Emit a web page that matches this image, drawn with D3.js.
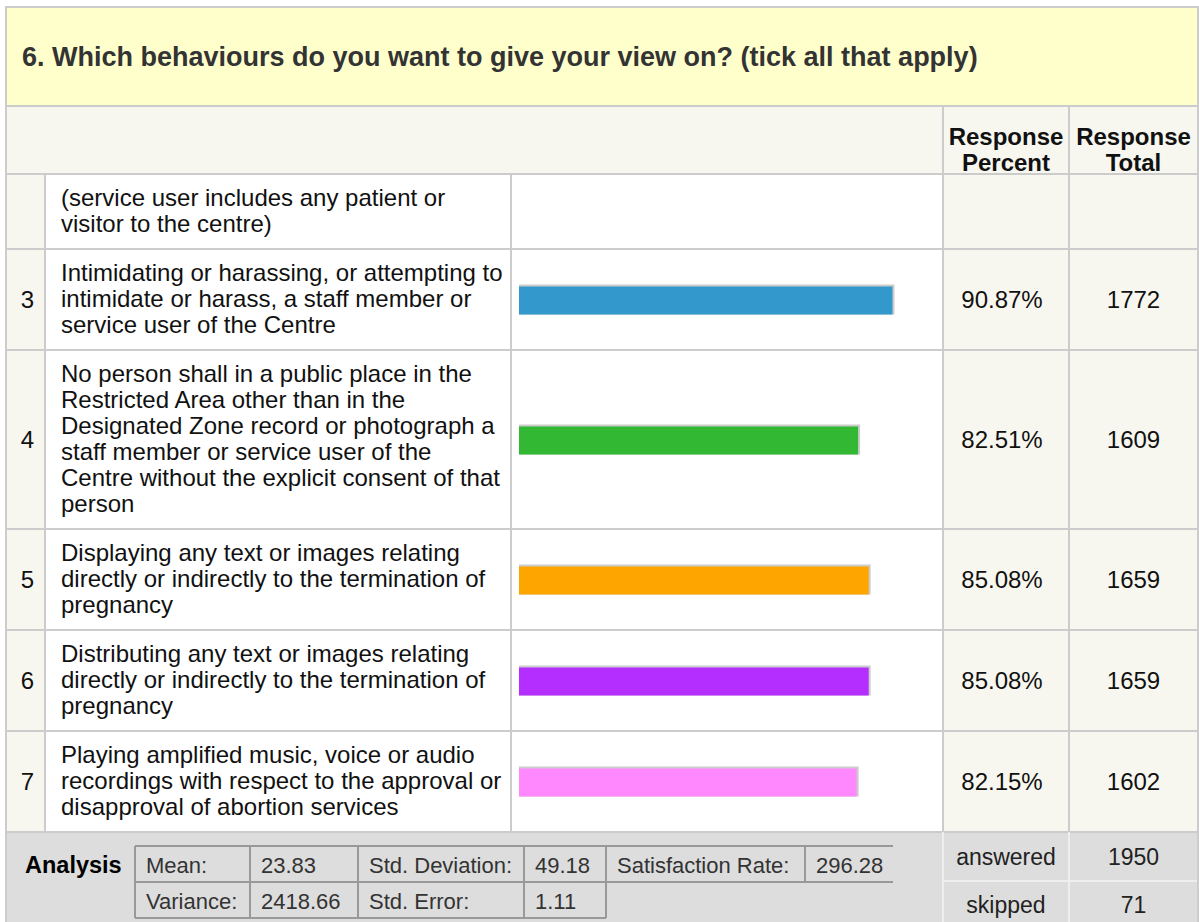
<!DOCTYPE html>
<html>
<head>
<meta charset="utf-8">
<script src="https://cdn.jsdelivr.net/npm/d3@7"></script>
<style>
  html, body { margin: 0; padding: 0; background: #ffffff; }
  svg { display: block; font-family: "Liberation Sans", Arial, sans-serif; }
</style>
</head>
<body>
<svg id="chart" width="1199" height="922"></svg>
<script>
// ---- data ----
const title = "6. Which behaviours do you want to give your view on? (tick all that apply)";
const headerPercent = ["Response", "Percent"];
const headerTotal = ["Response", "Total"];
const rowNumbers = ["", "3", "4", "5", "6", "7"];
const rowLabels = [
  ["(service user includes any patient or", "visitor to the centre)"],
  ["Intimidating or harassing, or attempting to", "intimidate or harass, a staff member or", "service user of the Centre"],
  ["No person shall in a public place in the", "Restricted Area other than in the", "Designated Zone record or photograph a", "staff member or service user of the", "Centre without the explicit consent of that", "person"],
  ["Displaying any text or images relating", "directly or indirectly to the termination of", "pregnancy"],
  ["Distributing any text or images relating", "directly or indirectly to the termination of", "pregnancy"],
  ["Playing amplified music, voice or audio", "recordings with respect to the approval or", "disapproval of abortion services"]
];
const percentValues = [null, 90.87, 82.51, 85.08, 85.08, 82.15];
const totalValues = [null, 1772, 1609, 1659, 1659, 1602];
const barColors = [null, "#3399cc", "#33b833", "#ffa500", "#b42eff", "#ff88ff"];
const analysisRow1 = [["Mean:", "23.83"], ["Std. Deviation:", "49.18"], ["Satisfaction Rate:", "296.28"]];
const analysisRow2 = [["Variance:", "2418.66"], ["Std. Error:", "1.11"]];
const answeredSkipped = [["answered", 1950], ["skipped", 71]];

// ---- layout ----
const svg = d3.select("#chart");
const L = 6, R = 1198, T = 7;
const titleH = 99, headerH = 68;
const colX = [L, 45, 511, 943, 1069, R];
const lineH = 26, rowPad = 23;
const fs = 24;
const lineColor = "#cccccc";
const cream = "#f7f7f0";

// row boundaries computed from line counts
const rowHeights = rowLabels.map(l => l.length * lineH + rowPad);
const rowTops = [];
let acc = T + titleH + headerH;
rowHeights.forEach(h => { rowTops.push(acc); acc += h; });
const tableBottom = acc;

// bar scale
const x = d3.scaleLinear().domain([0, 100]).range([colX[2] + 8, colX[2] + 8 + 411]);
const barH = 30;

// title
svg.append("rect").attr("x", L).attr("y", T).attr("width", R - L).attr("height", titleH)
  .attr("fill", "#ffffcc");
svg.append("text").attr("x", 22).attr("y", T + titleH / 2 + 9.5)
  .attr("font-size", 27).attr("font-weight", "bold").attr("fill", "#333333").text(title);

// header
const hy = T + titleH;
svg.append("rect").attr("x", L).attr("y", hy).attr("width", R - L).attr("height", headerH).attr("fill", cream);
[[headerPercent, 3], [headerTotal, 4]].forEach(([lines, ci]) => {
  const cx = (colX[ci] + colX[ci + 1]) / 2;
  lines.forEach((t, i) => {
    svg.append("text").attr("x", cx).attr("y", hy + 39 + i * lineH).attr("text-anchor", "middle")
      .attr("font-size", fs).attr("font-weight", "bold").attr("fill", "#111").text(t);
  });
});

// rows
const rows = svg.append("g");
rowLabels.forEach((lines, i) => {
  const top = rowTops[i], h = rowHeights[i];
  const g = rows.append("g");
  const fills = [cream, "#ffffff", "#ffffff", cream, cream];
  fills.forEach((f, c) => {
    g.append("rect").attr("x", colX[c]).attr("y", top).attr("width", colX[c + 1] - colX[c]).attr("height", h).attr("fill", f);
  });
  const cy = top + h / 2;
  // number
  g.append("text").attr("x", (colX[0] + colX[1]) / 2 + 2).attr("y", cy + 8.5).attr("text-anchor", "middle")
    .attr("font-size", fs).attr("fill", "#111").text(rowNumbers[i]);
  // label
  const firstBase = cy - (lines.length - 1) * lineH / 2 + 7;
  lines.forEach((t, k) => {
    g.append("text").attr("x", 61).attr("y", firstBase + k * lineH)
      .attr("font-size", fs).attr("fill", "#111").text(t);
  });
  if (percentValues[i] != null) {
    const v = percentValues[i];
    const by = cy - barH / 2;
    g.append("rect").attr("x", x(0)).attr("y", by).attr("width", x(v) - x(0) + 2).attr("height", barH)
      .attr("fill", "#cccccc");
    g.append("rect").attr("x", x(0)).attr("y", by + 2).attr("width", x(v) - x(0)).attr("height", barH - 2)
      .attr("fill", barColors[i]);
    g.append("text").attr("x", (colX[3] + colX[4]) / 2 - 4).attr("y", cy + 8.5).attr("text-anchor", "middle")
      .attr("font-size", fs).attr("fill", "#111").text(v.toFixed(2) + "%");
    g.append("text").attr("x", (colX[4] + colX[5]) / 2).attr("y", cy + 8.5).attr("text-anchor", "middle")
      .attr("font-size", fs).attr("fill", "#111").text(totalValues[i]);
  }
});

// grid lines for body
const grid = svg.append("g").attr("stroke", lineColor).attr("stroke-width", 2).attr("fill", "none");
rowTops.forEach(t => grid.append("line").attr("x1", L).attr("x2", R).attr("y1", t).attr("y2", t));
[1, 2].forEach(c => grid.append("line").attr("x1", colX[c]).attr("x2", colX[c]).attr("y1", rowTops[0]).attr("y2", tableBottom));
[3, 4].forEach(c => grid.append("line").attr("x1", colX[c]).attr("x2", colX[c]).attr("y1", hy).attr("y2", 922));
grid.append("line").attr("x1", L).attr("x2", R).attr("y1", hy).attr("y2", hy);
grid.append("line").attr("x1", L).attr("x2", R).attr("y1", tableBottom).attr("y2", tableBottom);

// analysis footer
const fy = tableBottom;
svg.insert("rect", "g").attr("x", L).attr("y", fy).attr("width", R - L).attr("height", 922 - fy).attr("fill", "#dddddd");
svg.append("text").attr("x", 25).attr("y", fy + 41).attr("font-size", 23.5).attr("font-weight", "bold").attr("fill", "#000").text("Analysis");

const aCols = [135, 250, 358, 524, 606, 805, 893];
const aRowY = [fy + 14, fy + 50, fy + 86];
const ag = svg.append("g");
const flat1 = analysisRow1.flat();
const flat2 = analysisRow2.flat();
flat1.forEach((t, k) => ag.append("text").attr("x", aCols[k] + 11).attr("y", aRowY[0] + 27).attr("font-size", 22).attr("fill", "#333").text(t));
flat2.forEach((t, k) => ag.append("text").attr("x", aCols[k] + 11).attr("y", aRowY[1] + 27).attr("font-size", 22).attr("fill", "#333").text(t));
const ab = ag.append("g").attr("stroke", "#999999").attr("stroke-width", 2);
ab.append("line").attr("x1", aCols[0]).attr("x2", aCols[6]).attr("y1", aRowY[0]).attr("y2", aRowY[0]);
ab.append("line").attr("x1", aCols[0]).attr("x2", aCols[6]).attr("y1", aRowY[1]).attr("y2", aRowY[1]);
ab.append("line").attr("x1", aCols[0]).attr("x2", aCols[4]).attr("y1", aRowY[2]).attr("y2", aRowY[2]);
aCols.slice(0, 6).forEach(cx => ab.append("line").attr("x1", cx).attr("x2", cx).attr("y1", aRowY[0]).attr("y2", aRowY[1]));
aCols.slice(0, 5).forEach(cx => ab.append("line").attr("x1", cx).attr("x2", cx).attr("y1", aRowY[1]).attr("y2", aRowY[2]));

// answered / skipped
const midY = fy + 49;
answeredSkipped.forEach(([lab, v], k) => {
  const yc = k === 0 ? (fy + midY) / 2 : (midY + 922) / 2 + 3;
  svg.append("text").attr("x", (colX[3] + colX[4]) / 2).attr("y", yc + 8).attr("text-anchor", "middle")
    .attr("font-size", 23).attr("fill", "#222").text(lab);
  svg.append("text").attr("x", (colX[4] + colX[5]) / 2).attr("y", yc + 8).attr("text-anchor", "middle")
    .attr("font-size", 23).attr("fill", "#222").text(v);
});
const sg = svg.append("g").attr("stroke", "#eeeeee").attr("stroke-width", 2);
sg.append("line").attr("x1", colX[3]).attr("x2", R).attr("y1", midY).attr("y2", midY);
[3, 4].forEach(c => sg.append("line").attr("x1", colX[c]).attr("x2", colX[c]).attr("y1", fy).attr("y2", 922));

// outer border
svg.append("rect").attr("x", L).attr("y", T).attr("width", R - L).attr("height", 922 - T + 5)
  .attr("fill", "none").attr("stroke", lineColor).attr("stroke-width", 2);
</script>
</body>
</html>
